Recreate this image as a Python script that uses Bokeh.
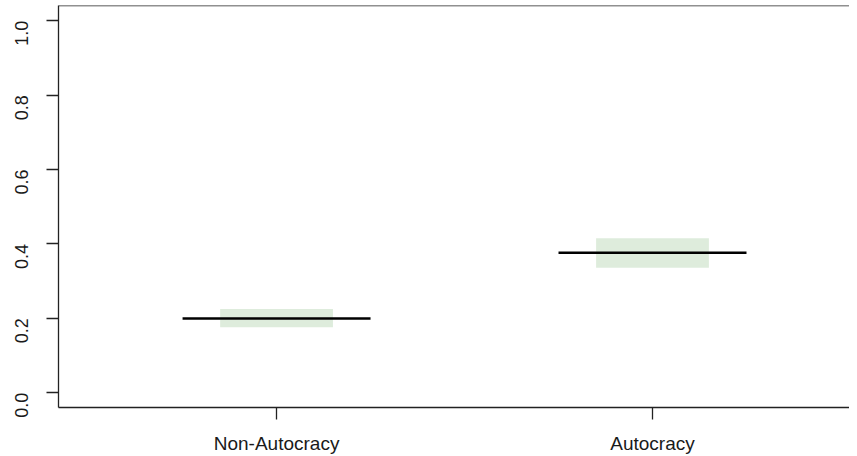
import math
from bokeh.plotting import figure
from bokeh.models import FixedTicker, Span, Range1d
from bokeh.embed import file_html
from bokeh.resources import INLINE

# ---- data ----
categories = ["Non-Autocracy", "Autocracy"]
medians = [0.199, 0.376]
lower = [0.176, 0.336]
upper = [0.225, 0.415]
y_ticks = [0.0, 0.2, 0.4, 0.6, 0.8, 1.0]

positions = [i + 1 for i in range(len(categories))]
line_half = 0.25
box_half = 0.15
y_end = 1.041

p = figure(width=849, height=456, output_backend="svg", toolbar_location=None,
           x_range=Range1d(0.42, 2.524), y_range=Range1d(-0.04, y_end),
           min_border_left=58, min_border_right=0, min_border_top=5, min_border_bottom=49)
p.outline_line_color = None
p.xgrid.visible = False
p.ygrid.visible = False
p.background_fill_color = "white"
p.border_fill_color = "white"

p.quad(left=[x - box_half for x in positions], right=[x + box_half for x in positions],
       bottom=lower, top=upper, fill_color="#deecdc", line_color=None)
p.segment(x0=[x - line_half for x in positions], x1=[x + line_half for x in positions],
          y0=medians, y1=medians, line_color="black", line_width=2.5)

top = Span(location=y_end, dimension="width", line_color="#222222", line_width=1.3)
p.add_layout(top)

ax = p.xaxis[0]
ax.ticker = FixedTicker(ticks=positions)
ax.major_label_overrides = {pos: c for pos, c in zip(positions, categories)}
ax.minor_tick_line_color = None
ax.major_tick_out = 12
ax.major_tick_in = 0
ax.axis_line_color = "#222222"
ax.axis_line_width = 1.3
ax.major_tick_line_color = "#222222"
ax.major_tick_line_width = 1.3
ax.major_label_text_font = "Liberation Sans"
ax.major_label_text_font_size = "19px"
ax.major_label_text_color = "#1a1a1a"
ax.major_label_standoff = 13

ay = p.yaxis[0]
ay.ticker = FixedTicker(ticks=y_ticks)
ay.major_label_overrides = {t: f"{t:.1f}" for t in y_ticks}
ay.minor_tick_line_color = None
ay.major_tick_out = 12
ay.major_tick_in = 0
ay.axis_line_color = "#222222"
ay.axis_line_width = 1.3
ay.major_tick_line_color = "#222222"
ay.major_tick_line_width = 1.3
ay.major_label_orientation = math.pi / 2
ay.major_label_text_font = "Liberation Sans"
ay.major_label_text_font_size = "18px"
ay.major_label_text_color = "#1a1a1a"
ay.major_label_standoff = 25

open("out.html", "w").write(file_html(p, INLINE))
